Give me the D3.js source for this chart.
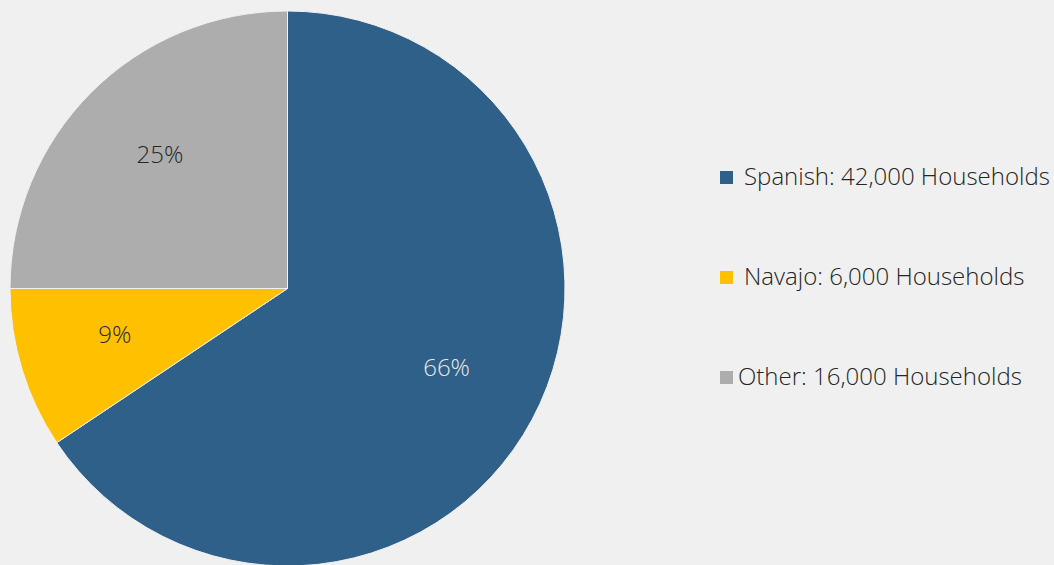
<!DOCTYPE html>
<html>
<head>
<meta charset="utf-8">
<script src="https://cdn.jsdelivr.net/npm/d3@7"></script>
<style>
  html, body { margin: 0; padding: 0; background: #f0f0f0; }
  svg { display: block; }
  text { font-family: "Open Sans", "Segoe UI", "Noto Sans", sans-serif; font-weight: 300; }
</style>
</head>
<body>
<svg id="chart" width="1054" height="565"></svg>
<script>
const categories = ["Spanish", "Navajo", "Other"];
const households = [42000, 6000, 16000];
const legendLabels = ["Spanish: 42,000 Households", "Navajo: 6,000 Households", "Other: 16,000 Households"];
const colors = ["#2e6089", "#ffc000", "#adadad"];
const labelColors = ["#e8e8e8", "#262626", "#262626"];

const svg = d3.select("#chart");
const cx = 287.5, cy = 288.5, r = 277.5;

const data = categories.map((c, i) => ({ cat: c, value: households[i], i }));
const total = d3.sum(households);

const pie = d3.pie().value(d => d.value).sort(null);
const arc = d3.arc().innerRadius(0).outerRadius(r);
const labelArc = d3.arc().innerRadius(r * 0.65).outerRadius(r * 0.65);

const g = svg.append("g").attr("transform", `translate(${cx},${cy})`);
const arcs = pie(data);

g.selectAll("path").data(arcs).join("path")
  .attr("d", arc)
  .attr("fill", d => colors[d.data.i])
  .attr("stroke", "#f0f0f0")
  .attr("stroke-width", 1);

g.selectAll("text.lbl").data(arcs).join("text")
  .attr("class", "lbl")
  .attr("transform", d => `translate(${labelArc.centroid(d)})`)
  .attr("text-anchor", "middle")
  .attr("dy", "0.1em")
  .attr("fill", d => labelColors[d.data.i])
  .style("font-size", "24px")
  .text(d => Math.round(d.data.value / total * 100) + "%");

const legendY = d3.scalePoint().domain(categories).range([177, 377]);
const leg = svg.append("g");
const items = leg.selectAll("g").data(data).join("g")
  .attr("transform", d => `translate(720,${legendY(d.cat)})`);
items.append("rect")
  .attr("x", 0).attr("y", -6).attr("width", 13).attr("height", 13)
  .attr("fill", d => colors[d.i]);
items.append("text")
  .attr("x", d => d.i === 2 ? 18 : 24)
  .attr("y", 0)
  .attr("dy", "0.34em")
  .attr("fill", "#262626")
  .style("font-size", "24px")
  .text(d => legendLabels[d.i]);
</script>
</body>
</html>
